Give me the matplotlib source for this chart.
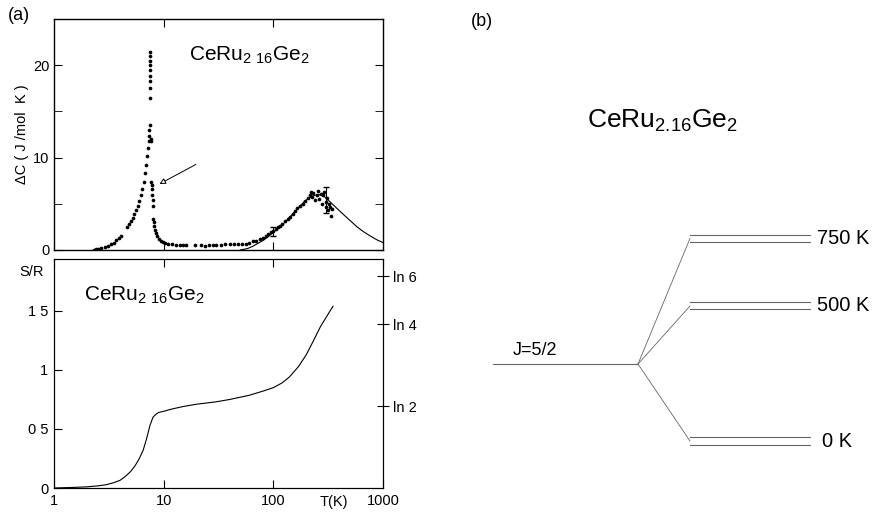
import matplotlib
matplotlib.use('Agg')
import matplotlib.pyplot as plt
import numpy as np

plt.rcParams['font.family'] = ['Liberation Sans', 'DejaVu Sans']
plt.rcParams['mathtext.default'] = 'regular'

# specific heat points, dC (J/mol K) vs T (K)
T_pts = [2.3, 2.4, 2.5, 2.6, 2.7, 2.9, 3.1, 3.3, 3.5, 3.7, 3.9, 4.1,
         4.6, 4.8, 5.0, 5.2, 5.4, 5.6, 5.8, 6.0, 6.2, 6.4, 6.6, 6.8, 6.95,
         7.1, 7.2, 7.3, 7.35, 7.4, 7.45, 7.5, 7.5, 7.52, 7.52, 7.55, 7.55,
         7.55, 7.55, 7.55, 7.6, 7.6,
         7.7, 7.75, 7.8, 7.9, 7.95, 8.0, 8.05, 8.1, 8.2, 8.35, 8.5, 8.7,
         9.0, 9.4, 9.8, 10.3, 11, 12, 13, 14, 15, 16,
         19.5, 22, 24, 26, 28, 30, 33, 36, 40, 44, 48, 52, 56, 60, 65, 70,
         75, 80, 85, 90, 95, 100, 105, 110, 115, 120, 128, 135, 142, 150,
         158, 166, 175, 185, 195, 205, 215, 220, 225, 232, 240, 248, 255,
         262, 270, 278, 285, 292, 300, 305, 310, 318, 325, 330, 335, 340]
dC_pts = [0.05, 0.1, 0.1, 0.15, 0.2, 0.3, 0.45, 0.6, 0.8, 1.05, 1.3, 1.5,
          2.5, 2.8, 3.1, 3.5, 3.9, 4.3, 4.8, 5.3, 5.9, 6.6, 7.4, 8.3, 9.2,
          10.2, 11.0, 11.8, 12.3, 13.0, 13.5, 16.5, 17.5, 18.3, 18.8, 19.5,
          20.0, 20.5, 21.0, 21.4, 12.0, 11.8,
          7.4, 7.0, 6.6, 6.0, 5.4, 4.8, 3.4, 3.0, 2.6, 2.2, 1.8, 1.5,
          1.2, 1.0, 0.9, 0.8, 0.7, 0.6, 0.55, 0.55, 0.5, 0.5,
          0.5, 0.5, 0.45, 0.5, 0.55, 0.5, 0.55, 0.6, 0.6, 0.6, 0.65, 0.6,
          0.7, 0.8, 0.95, 1.0, 1.2, 1.3, 1.5, 1.7, 1.9, 2.1, 2.3, 2.5, 2.6,
          2.8, 3.1, 3.4, 3.6, 3.9, 4.2, 4.5, 4.8, 5.0, 5.3, 5.6, 5.9, 6.3,
          5.7, 6.2, 5.4, 6.0, 6.4, 5.5, 6.1, 5.0, 5.9, 6.3, 5.2, 4.6, 5.6,
          4.3, 5.0, 4.7, 3.7, 4.4]

# Schottky fit line
T_fit = [50, 58, 65, 72, 80, 90, 100, 115, 130, 150, 170, 190, 210, 235,
         260, 290, 330, 380, 440, 500, 580, 670, 770, 880, 1000]
dC_fit = [0.0, 0.15, 0.4, 0.7, 1.0, 1.45, 1.9, 2.5, 3.1, 3.9, 4.6, 5.2,
          5.6, 5.9, 6.0, 5.8, 5.2, 4.5, 3.8, 3.2, 2.5, 1.95, 1.5, 1.1, 0.8]

# error bars
T_err = [100, 300]
dC_err = [2.0, 5.4]
dC_errsize = [0.5, 1.4]

# entropy S/R
T_S = [1, 1.5, 2, 2.5, 3, 3.5, 4, 4.5, 5, 5.5, 6, 6.5, 7, 7.5, 8, 8.5, 9,
       10, 12, 15, 20, 30, 40, 60, 80, 100, 120, 140, 170, 200, 230, 270,
       310, 350]
S_R = [0.0, 0.005, 0.01, 0.018, 0.028, 0.045, 0.065, 0.1, 0.14, 0.19, 0.25,
       0.32, 0.42, 0.53, 0.6, 0.625, 0.64, 0.65, 0.67, 0.69, 0.71, 0.73,
       0.75, 0.785, 0.82, 0.85, 0.89, 0.94, 1.03, 1.13, 1.24, 1.37, 1.46,
       1.54]

ln_vals = [np.log(2), np.log(4), np.log(6)]
ln_labels = ['ln 2', 'ln 4', 'ln 6']

# crystal field levels (K)
levels = [0, 500, 750]
level_labels = ['0 K', '500 K', '750 K']
J_level = 285
doublet_gap = 26

fig = plt.figure(figsize=(8.78, 5.15), dpi=100)

# ---- (a) top: specific heat
ax1 = fig.add_axes([0.0615, 0.5146, 0.3747, 0.4485])
ax1.scatter(T_pts, dC_pts, s=7, c='k', lw=0)
ax1.plot(T_fit, dC_fit, 'k-', lw=0.8)
ax1.errorbar(T_err, dC_err, yerr=dC_errsize, fmt='none', ecolor='k',
             elinewidth=0.8, capsize=2)
ax1.set_xscale('log')
ax1.set_xlim(1, 1000)
ax1.set_ylim(0, 25)
ax1.set_yticks([0, 10, 20])
ax1.set_yticks([5, 15], minor=True)
ax1.set_xticks([10, 100])
ax1.xaxis.set_minor_locator(matplotlib.ticker.NullLocator())
ax1.set_xticklabels([])
ax1.tick_params(which='both', direction='in', length=6, labelsize=10.5,
                right=True, top=True, bottom=True)
ax1.set_ylabel('ΔC ( J /mol  K )', fontsize=10.5, labelpad=3)
ax1.annotate('', xy=(8.7, 7.0), xytext=(20.7, 9.4),
             arrowprops=dict(arrowstyle='-|>', fc='white', ec='k', lw=0.7,
                             mutation_scale=9))
ax1.text(0.41, 0.82, r'CeRu$_{2\ 16}$Ge$_2$', transform=ax1.transAxes,
         fontsize=15)
for s in ax1.spines.values():
    s.set_linewidth(1.0)

# ---- (a) bottom: entropy
ax2 = fig.add_axes([0.0615, 0.0524, 0.3747, 0.4447])
ax2.plot(T_S, S_R, 'k-', lw=0.8)
ax2.set_xscale('log')
ax2.set_xlim(1, 1000)
ax2.set_ylim(0, 1.94)
ax2.set_yticks([0, 0.5, 1, 1.5])
ax2.set_yticklabels(['0', '0 5', '1', '1 5'])
ax2.set_xticks([1, 10, 100, 1000])
ax2.set_xticklabels(['1', '10', '100', '1000'])
ax2.xaxis.set_minor_locator(matplotlib.ticker.NullLocator())
ax2.tick_params(which='both', direction='in', length=6, labelsize=10.5,
                top=True, pad=4)
ax2.text(355, -0.06, 'T(K)', ha='center', va='top', fontsize=10.5)
ax2.text(-0.03, 1.83, 'S/R', transform=ax2.get_yaxis_transform(),
         ha='right', va='center', fontsize=10.5)
ax2.text(0.09, 0.82, r'CeRu$_{2\ 16}$Ge$_2$', transform=ax2.transAxes,
         fontsize=15)
ax2r = ax2.twinx()
ax2r.set_ylim(ax2.get_ylim())
ax2r.set_yticks(ln_vals)
ax2r.set_yticklabels(ln_labels)
ax2r.tick_params(direction='inout', length=8, labelsize=10.5, pad=3)

fig.text(19 / 878, 1 - 15 / 515, '(a)', ha='center', va='center', fontsize=13)
fig.text(482 / 878, 1 - 22 / 515, '(b)', ha='center', va='center', fontsize=13)

# ---- (b) level scheme
axb = fig.add_axes([440 / 878, 0, 438 / 878, 1])
axb.set_xlim(0, 438)
axb.set_ylim(-274, 1633)
axb.axis('off')
gray = '#666666'
axb.plot([53, 198], [J_level, J_level], color=gray, lw=0.8)
axb.text(73, J_level + 20, 'J=5/2', fontsize=13, va='bottom')
for E, lab in zip(levels, level_labels):
    upper = E + doublet_gap / 2
    lower = E - doublet_gap / 2
    axb.plot([198, 250], [J_level, E], color=gray, lw=0.6)
    axb.plot([250, 370], [upper, upper], color=gray, lw=0.8)
    axb.plot([250, 370], [lower, lower], color=gray, lw=0.8)
    axb.text(377 if E > 0 else 382, E, lab, fontsize=14.5, va='center')
axb.text(222, 1185, 'CeRu$_{2.16}$Ge$_2$', ha='center', va='center',
         fontsize=19)

fig.savefig('out.png', dpi=100)
